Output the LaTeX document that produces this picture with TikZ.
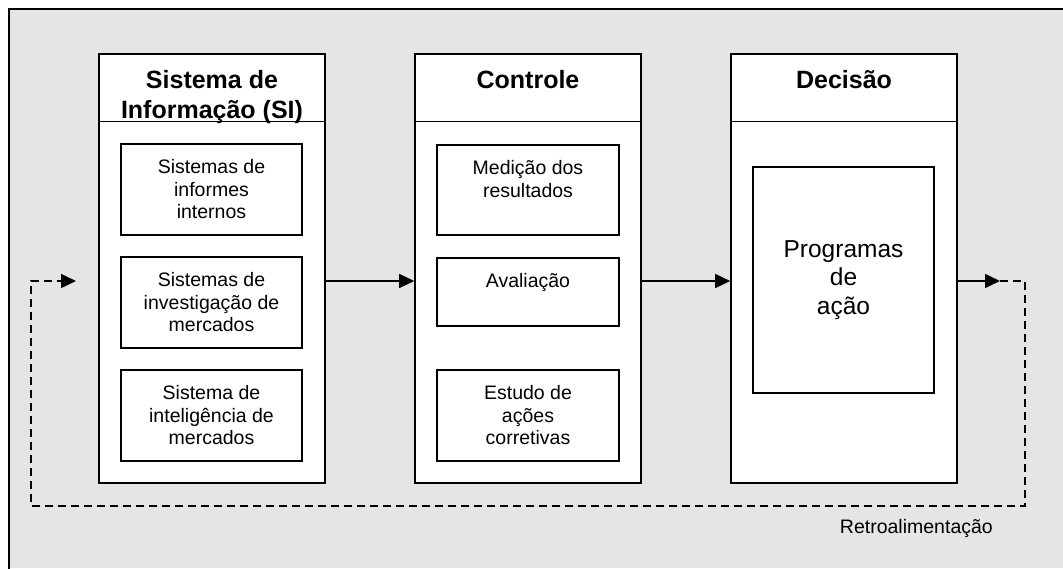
\documentclass[tikz,border=0pt]{standalone}
\usepackage{fontspec}
\setmainfont{Liberation Sans}
\usetikzlibrary{arrows.meta}
\definecolor{panel}{gray}{0.898}
\begin{document}
\begin{tikzpicture}[x=1pt, y=-1pt,
  bodyfont/.style={font=\fontsize{19.5}{22.5}\selectfont},
  col/.style={draw, line width=1.6pt, fill=white, minimum width=226pt,
    minimum height=429pt, inner sep=0pt},
  coltitle/.style={anchor=north, inner sep=0pt, align=center,
    font=\fontsize{25}{30}\selectfont\bfseries},
  item/.style={draw, line width=1.6pt, fill=white, inner sep=0pt,
    align=center, bodyfont},
  toptext/.style={anchor=north, inner sep=0pt, align=center, bodyfont},
  flow/.style={line width=1.5pt, -{Triangle[length=15pt,width=14pt]}},
  feedback/.style={line width=1.5pt, dash pattern=on 8pt off 5pt},
]
\useasboundingbox (0,0) rectangle (1063,568);

% grey panel with its top and left edge
\fill[panel] (9,9) rectangle (1063,568);
\draw[line width=1.8pt] (9,570) -- (9,9) -- (1065,9);

% the three stages
\node[col] (si)  at (212,268.5) {};
\node[col] (ctl) at (528,268.5) {};
\node[col] (dec) at (844,268.5) {};

\foreach \c in {si,ctl,dec}
  \draw[line width=1.3pt] ([yshift=-68pt]\c.north west) -- ([yshift=-68pt]\c.north east);

\node[coltitle] (siT)  at ([yshift=-14.5pt]si.north)  {\strut Sistema de\\Informação (SI)};
\node[coltitle] (ctlT) at ([yshift=-14.5pt]ctl.north) {\strut Controle};
\node[coltitle] (decT) at ([yshift=-14.5pt]dec.north) {\strut Decisão};

% information systems
\node[item, minimum width=181pt, minimum height=91pt] (si1) at (211.5,189.5)
  {Sistemas de\\informes\\internos};
\node[item, minimum width=181pt, minimum height=91pt] (si2) at (211.5,302.5)
  {Sistemas de\\investigação de\\mercados};
\node[item, minimum width=181pt, minimum height=91pt] (si3) at (211.5,415.5)
  {Sistema de\\inteligência de\\mercados};

% control steps
\node[item, minimum width=182pt, minimum height=90pt] (c1) at (528,190) {};
\node[toptext] (c1T) at ([yshift=-14.5pt]c1.north) {\strut Medição dos\\resultados};
\node[item, minimum width=182pt, minimum height=68pt] (c2) at (528,292) {};
\node[toptext] (c2T) at ([yshift=-14.5pt]c2.north) {\strut Avaliação};
\node[item, minimum width=182pt, minimum height=91pt] (c3) at (528,415.5)
  {Estudo de\\ações\\corretivas};

% decision
\node[item, minimum width=181pt, minimum height=226pt,
  font=\fontsize{24.5}{28.5}\selectfont] (d1) at (843.5,280)
  {Programas\\de\\ação};

% flow between stages
\coordinate (row) at (0,281);
\draw[flow] (si.east |- row) -- (ctl.west |- row);
\draw[flow] (ctl.east |- row) -- (dec.west |- row);

% feedback loop
\coordinate (fb1) at (1000,281);
\coordinate (fb2) at (1025,281);
\coordinate (fb3) at (1025,506);
\coordinate (fb4) at (31,506);
\coordinate (fb5) at (31,281);
\coordinate (fb6) at (76,281);
\draw[flow] (dec.east |- row) -- (fb1);
\draw[feedback] (fb1) -- (fb2) -- (fb3) -- (fb4) -- (fb5) -- ([xshift=-15pt]fb6);
\draw[flow] ([xshift=-16pt]fb6) -- (fb6);

\node[anchor=base east, inner sep=0pt, bodyfont] (retro) at (993,533) {Retroalimentação};
\end{tikzpicture}
\end{document}
